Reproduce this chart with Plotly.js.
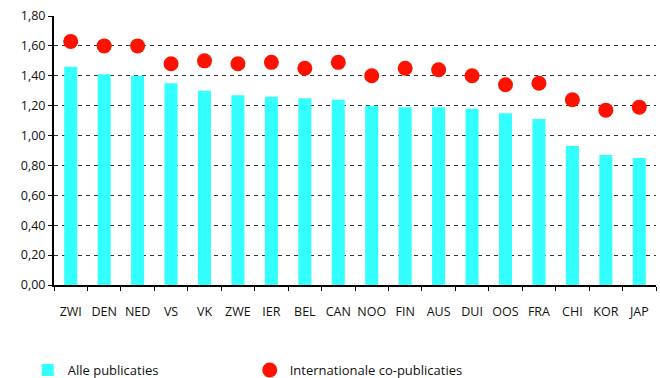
<!DOCTYPE html>
<html>
<head>
<meta charset="utf-8">
<script src="https://cdn.plot.ly/plotly-3.0.1.min.js"></script>
<style>html,body{margin:0;padding:0;background:#fff;}#chart{width:660px;height:378px;}</style>
</head>
<body>
<div id="chart"></div>
<script>
const countries = ["ZWI","DEN","NED","VS","VK","ZWE","IER","BEL","CAN","NOO","FIN","AUS","DUI","OOS","FRA","CHI","KOR","JAP"];
const allePublicaties = [1.46,1.41,1.40,1.35,1.30,1.27,1.26,1.25,1.24,1.20,1.19,1.19,1.18,1.15,1.11,0.93,0.87,0.85];
const coPublicaties = [1.63,1.60,1.60,1.48,1.50,1.48,1.49,1.45,1.49,1.40,1.45,1.44,1.40,1.34,1.35,1.24,1.17,1.19];
const yTicks = [0,0.2,0.4,0.6,0.8,1.0,1.2,1.4,1.6,1.8];

const font = "Open Sans, Liberation Sans, sans-serif";
const data = [
  {type:"bar", name:"Alle publicaties", x:countries, y:allePublicaties,
   marker:{color:"#33FFFF"}, width:0.39},
  {type:"scatter", mode:"markers", name:"Internationale co-publicaties", x:countries, y:coPublicaties,
   marker:{color:"#FF1100", size:15}}
];
const layout = {
  width:660, height:378,
  margin:{l:54, r:4, t:16, b:93},
  paper_bgcolor:"#fff", plot_bgcolor:"#fff",
  font:{family:font, size:12.5, color:"#111"},
  separators:", ",
  showlegend:true,
  legend:{orientation:"h", xref:"container", yref:"container", x:0.042, xanchor:"left", y:0.021, yanchor:"middle",
          entrywidth:177, entrywidthmode:"pixels", traceorder:"normal",
          font:{family:font, size:13, color:"#111"}, itemclick:false},
  xaxis:{type:"category", range:[-0.5, countries.length-0.5], tickangle:0,
         showline:true, linecolor:"#000", linewidth:2,
         ticks:"outside", tickson:"boundaries", ticklen:4, tickcolor:"#000", tickwidth:1,
         ticklabelstandoff:14, showgrid:false, zeroline:false, fixedrange:true},
  yaxis:{range:[0,1.8], tickvals:yTicks, tickformat:".2f", showline:true, linecolor:"#000", linewidth:2,
         ticks:"outside", ticklen:4, tickcolor:"#000", tickwidth:1,
         showgrid:true, gridcolor:"#333", gridwidth:1, griddash:"4px,4px",
         zeroline:false, fixedrange:true}
};
Plotly.newPlot("chart", data, layout, {displayModeBar:false, staticPlot:true});
</script>
</body>
</html>
